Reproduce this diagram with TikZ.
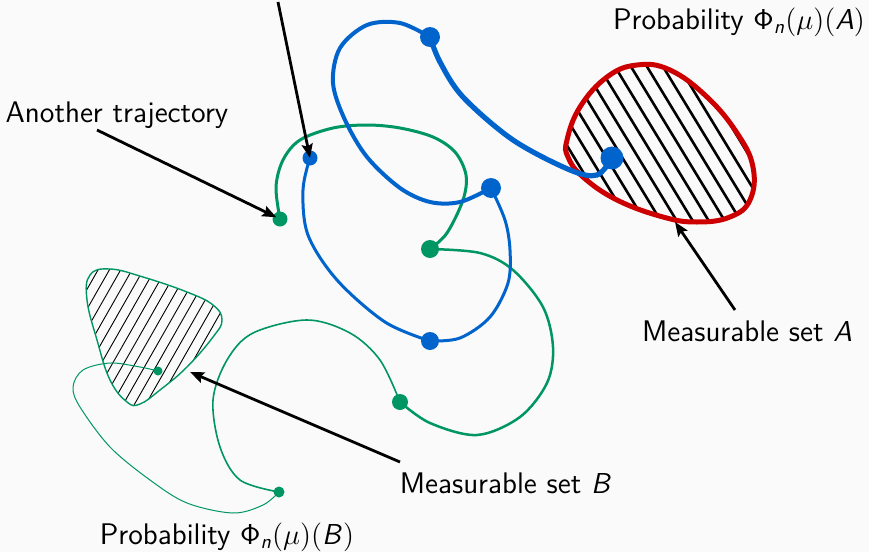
\documentclass[tikz,border=0pt]{standalone}
\usetikzlibrary{arrows.meta}
\DeclareMathAlphabet{\mathsfit}{OT1}{cmss}{m}{sl}
\definecolor{bgc}{RGB}{250,250,250}
\definecolor{tblue}{RGB}{0,100,204}
\definecolor{tgreen}{RGB}{0,150,100}
\definecolor{tred}{RGB}{204,0,0}
\begin{document}
\begin{tikzpicture}[x=0.5pt,y=-0.5pt,
  lbl/.style={font=\sffamily\fontsize{14.9}{17}\selectfont, inner sep=0pt, text=black},
  bdot/.style={circle, fill=tblue, inner sep=0pt},
  gdot/.style={circle, fill=tgreen, inner sep=0pt},
  bline/.style={draw=tblue, line cap=round},
  gline/.style={draw=tgreen, line cap=round},
  arr/.style={draw=black, line width=1.4pt, -{Stealth[length=7pt,width=5.5pt,inset=1.2pt]}},
  hatchA/.style={draw=black, line width=1.3pt},
  hatchB/.style={draw=black, line width=0.45pt}]
\fill[bgc] (0,0) rectangle (869,552);
\useasboundingbox (0,0) rectangle (869,552);

% ---- Measurable set A ----
\begin{scope}
\clip plot[smooth cycle, tension=0.7] coordinates {(567,140) (580,107) (607,77) (637,65) (670,70) (707,97) (737,133) (753,167) (750,200) (730,217) (697,222) (663,217) (617,200) (583,177) (568,157)};
\foreach \k in {-8,...,8} {
  \draw[hatchA] ({598.8+16*\k},40) -- ({598.8+16*\k+121.6},240);
}
\end{scope}
\draw[draw=tred, line width=2.5pt] plot[smooth cycle, tension=0.7] coordinates {(567,140) (580,107) (607,77) (637,65) (670,70) (707,97) (737,133) (753,167) (750,200) (730,217) (697,222) (663,217) (617,200) (583,177) (568,157)};

% ---- Measurable set B ----
\begin{scope}
\clip plot[smooth cycle, tension=0.7] coordinates {(90,275) (110,269) (143,277) (187,292) (213,305) (222,320) (213,337) (187,367) (160,390) (140,404) (127,402) (110,380) (97,340) (87,300)};
\foreach \k in {-3,...,13} {
  \draw[hatchB] ({132+11.3*\k},250) -- ({132+11.3*\k-96.9},420);
}
\end{scope}
\draw[draw=tgreen, line width=0.7pt] plot[smooth cycle, tension=0.7] coordinates {(90,275) (110,269) (143,277) (187,292) (213,305) (222,320) (213,337) (187,367) (160,390) (140,404) (127,402) (110,380) (97,340) (87,300)};

% ---- dots ----
\node[bdot, minimum size=7.5pt] (b1) at (310,158) {};
\node[bdot, minimum size=9pt]   (b2) at (430,341) {};
\node[bdot, minimum size=10pt]  (b3) at (491,188) {};
\node[bdot, minimum size=10pt]  (b4) at (430,37) {};
\node[bdot, minimum size=11.5pt] (b5) at (612,158) {};
\node[gdot, minimum size=4.5pt] (g1) at (158,371) {};
\node[gdot, minimum size=5.5pt] (g2) at (279,492) {};
\node[gdot, minimum size=8pt]   (g3) at (400,402) {};
\node[gdot, minimum size=9pt]   (g4) at (430,249) {};
\node[gdot, minimum size=7.5pt] (g5) at (280,219) {};

% ---- green trajectory ----
\draw[gline, line width=0.5pt] plot[smooth, tension=0.55] coordinates {(g1.center) (140,367) (110,363) (83,370) (73,387) (80,407) (110,447) (150,480) (187,503) (233,513) (263,505) (g2.center)};
\draw[gline, line width=0.8pt] plot[smooth, tension=0.55] coordinates {(g2.center) (240,480) (220,447) (213,400) (227,360) (253,333) (307,320) (350,333) (380,360) (g3.center)};
\draw[gline, line width=1.25pt] plot[smooth, tension=0.55] coordinates {(g3.center) (430,423) (477,435) (520,417) (547,383) (553,347) (543,307) (513,270) (480,253) (g4.center)};
\draw[gline, line width=1.5pt] plot[smooth, tension=0.55] coordinates {(g4.center) (447,233) (463,200) (466,175) (455,152) (433,137) (400,128) (367,125) (333,128) (300,140) (283,160) (276,187) (g5.center)};

% ---- blue trajectory ----
\draw[bline, line width=1.5pt] plot[smooth, tension=0.55] coordinates {(b1.center) (303,190) (308,235) (337,280) (385,322) (b2.center)};
\draw[bline, line width=1.5pt] plot[smooth, tension=0.55] coordinates {(b2.center) (460,338) (490,317) (508,283) (510,250) (505,220) (b3.center)};
\draw[bline, line width=2pt] plot[smooth, tension=0.55] coordinates {(b3.center) (460,202) (430,202) (400,188) (367,157) (345,120) (333,83) (340,48) (367,25) (400,23) (b4.center)};
\draw[bline, line width=2.6pt] plot[smooth, tension=0.55] coordinates {(b4.center) (440,62) (463,97) (513,140) (570,170) (597,175) (b5.center)};

% ---- labels ----
\node[lbl] (probA) at (739,22) {Probability $\mathsf{\Phi}_{\mathsfit{n}}(\mu)(\mathsfit{A})$};
\node[lbl] (probB) at (227,537) {Probability $\mathsf{\Phi}_{\mathsfit{n}}(\mu)(\mathsfit{B})$};
\node[lbl] (another) at (117,115) {Another trajectory};
\node[lbl] (msA) at (747,331) {Measurable set $\mathsfit{A}$};
\node[lbl] (msB) at (506,483) {Measurable set $\mathsfit{B}$};

% ---- arrows ----
\coordinate (topend) at (278,2);
\coordinate (s2) at (97,130);
\coordinate (s3) at (735,310);
\coordinate (s4) at (400,462);
\coordinate (tA) at (675,222);
\coordinate (tB) at (190,372);
\draw[arr] (topend) -- (b1.center);
\draw[arr, shorten >=2pt] (s2) -- (g5.center);
\draw[arr] (s3) -- (tA);
\draw[arr] (s4) -- (tB);
\end{tikzpicture}
\end{document}
